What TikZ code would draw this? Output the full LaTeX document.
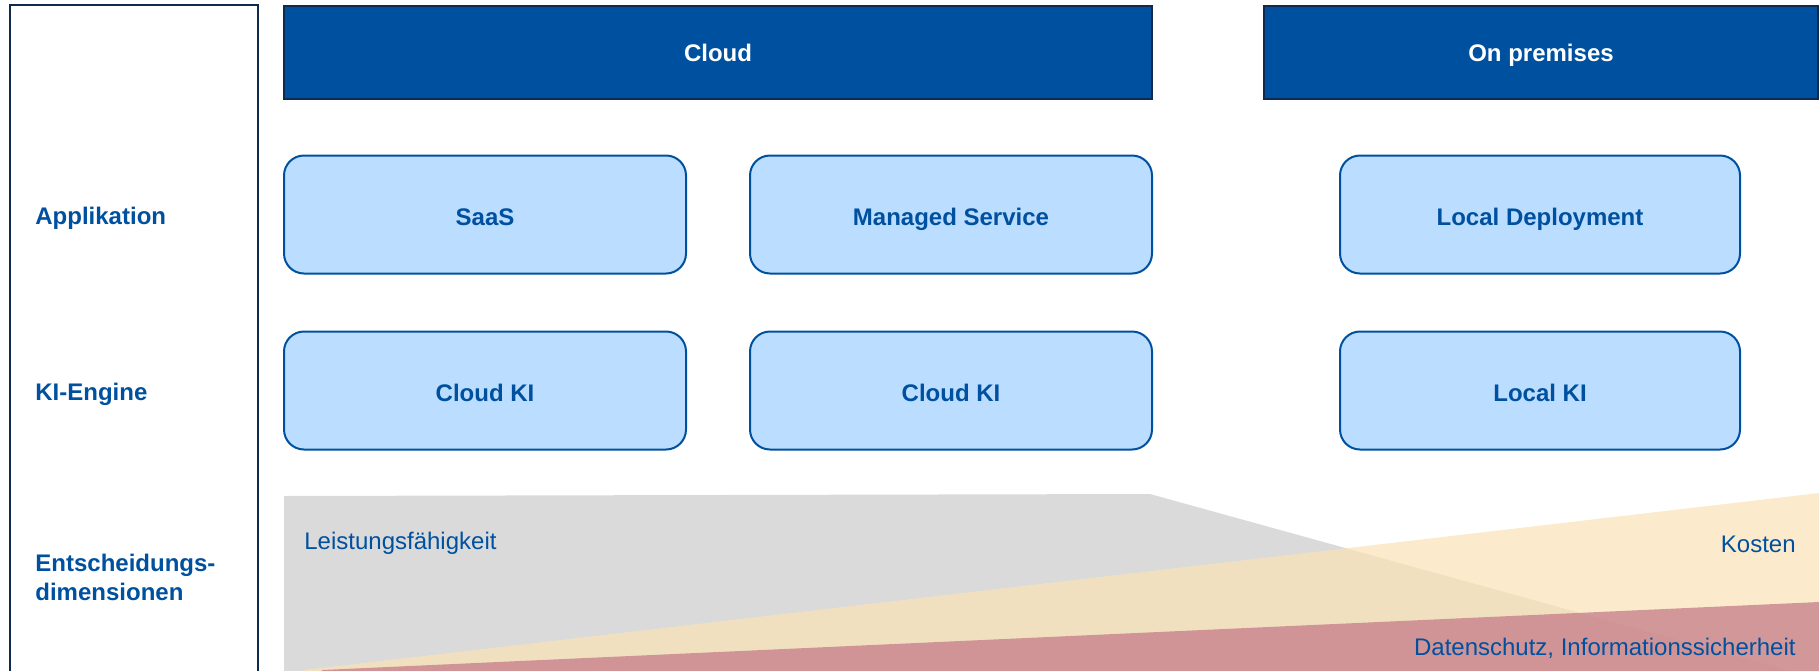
\documentclass[tikz,border=0pt]{standalone}
\usepackage{fontspec}
\setmainfont{Liberation Sans}
\definecolor{barblue}{HTML}{0050A0}
\definecolor{navy}{HTML}{102A4E}
\definecolor{boxfill}{HTML}{BBDDFF}
\definecolor{txtblue}{HTML}{0050A0}
\definecolor{dimgray}{HTML}{DADADA}
\definecolor{dimyellow}{RGB}{250,227,182}
\definecolor{dimred}{RGB}{200,130,140}
\begin{document}
\begin{tikzpicture}[x=0.5pt,y=-0.5pt,
  lbl/.style={font=\bfseries\fontsize{12}{14.5}\selectfont},
  header/.style={lbl, text height=8.6pt, text depth=0pt, draw=navy, line width=1pt,
    fill=barblue, text=white, minimum height=46.5pt, inner sep=0pt},
  optbox/.style={lbl, text height=11pt, text depth=0pt, draw=barblue, line width=1pt,
    fill=boxfill, rounded corners=10pt, text=txtblue, minimum width=201pt,
    minimum height=59pt, inner sep=0pt},
  rowlabel/.style={lbl, anchor=west, text=txtblue, align=left, inner sep=0pt},
  dimlabel/.style={font=\fontsize{12}{14.5}\selectfont, text=txtblue, inner sep=0pt}]
\useasboundingbox (0,0) rectangle (1819,670);

% left column frame with row titles
\draw[navy, line width=1pt] (10,680) -- (10,5) -- (258,5) -- (258,680);
\node[rowlabel] (rowapp) at (35,218.5) {Applikation};
\node[rowlabel] (rowki) at (35,394.5) {KI-Engine};
\node[rowlabel] (rowdim) at (35,577) {Entscheidungs-\\dimensionen};

% deployment headers
\node[header, minimum width=434pt] (cloud) at (718,52.5) {Cloud};
\node[header, minimum width=277pt] (onprem) at (1541,52.5) {On premises};

% application layer
\node[optbox] (saas) at (485,214.5) {SaaS};
\node[optbox] (managed) at (951,214.5) {Managed Service};
\node[optbox, minimum width=200pt] (localdep) at (1540,214.5) {Local Deployment};

% engine layer
\node[optbox] (cloudki1) at (485,390.5) {Cloud KI};
\node[optbox] (cloudki2) at (951,390.5) {Cloud KI};
\node[optbox, minimum width=200pt] (localki) at (1540,390.5) {Local KI};

% decision dimensions
\fill[dimgray] (284,496) -- (1150,494) -- (1819,679) -- (1819,690) -- (284,690) -- cycle;
\fill[dimyellow, fill opacity=0.7] (304,670) -- (1819,493) -- (1819,690) -- (304,690) -- cycle;
\fill[dimred, fill opacity=0.8] (322,670) -- (1819,602) -- (1819,690) -- (322,690) -- cycle;

\node[dimlabel, anchor=west] (perf) at (304,543.5) {Leistungsfähigkeit};
\node[dimlabel, anchor=east] (cost) at (1796,544.5) {Kosten};
\node[dimlabel, anchor=east] (privacy) at (1796,648.5) {Datenschutz, Informationssicherheit};
\end{tikzpicture}
\end{document}
